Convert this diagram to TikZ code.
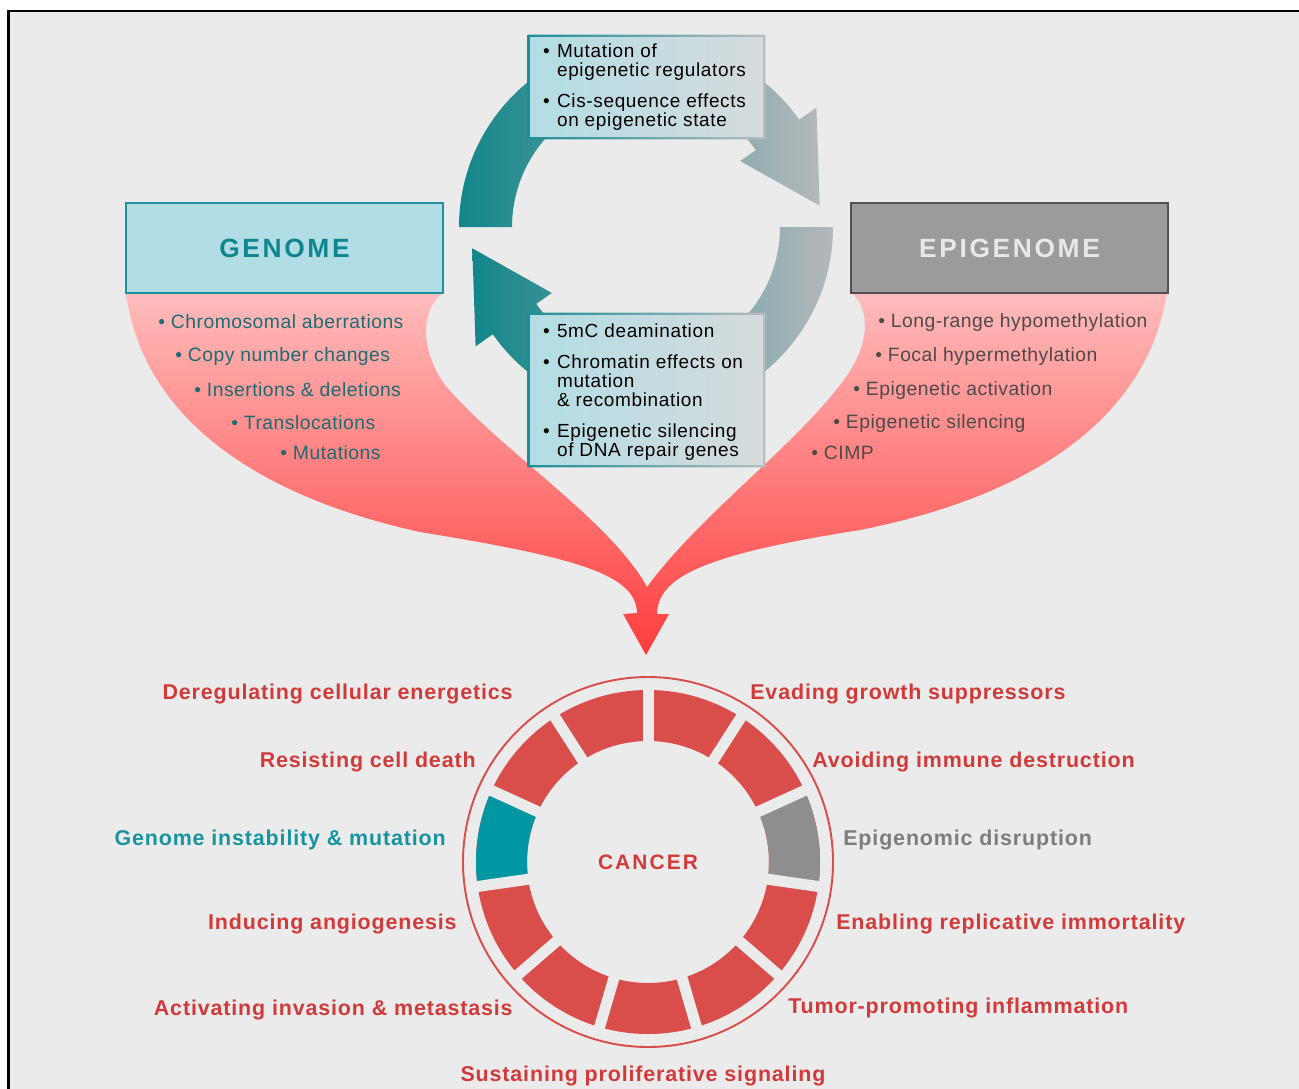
\documentclass[tikz,border=0pt]{standalone}
\usepackage{fontspec}
\setmainfont{Liberation Sans}
\newfontfamily\listfont[LetterSpace=2.5]{Liberation Sans}
\newfontfamily\boxfont[LetterSpace=3.5]{Liberation Sans}
\newfontfamily\labfont[LetterSpace=4]{Liberation Sans}
\newfontfamily\headfont[LetterSpace=10]{Liberation Sans}
\usetikzlibrary{calc}

\newcommand{\bul}{\textbullet\hspace{4.2pt}}

\definecolor{bggray}{HTML}{EBEBEB}
\definecolor{genfill}{HTML}{B3DDE5}
\definecolor{gendraw}{HTML}{1C939C}
\definecolor{gentext}{HTML}{0E868F}
\definecolor{genlist}{HTML}{1C6C72}
\definecolor{epifill}{HTML}{9B9B9B}
\definecolor{epidraw}{HTML}{544F50}
\definecolor{epitext}{HTML}{E8E8E8}
\definecolor{epilist}{HTML}{4E494A}
\definecolor{midleft}{HTML}{B2DDE5}
\definecolor{midright}{HTML}{D6DBDD}
\definecolor{edgeleft}{HTML}{1E8F97}
\definecolor{edgeright}{HTML}{B8BDBF}
\definecolor{loopleft}{HTML}{12868A}
\definecolor{loopright}{HTML}{B4B8BB}
\definecolor{funtop}{HTML}{FFBCBC}
\definecolor{funmid}{HTML}{FF9A9A}
\definecolor{funbot}{HTML}{FF3C3C}
\definecolor{hallred}{HTML}{D94D4A}
\definecolor{labred}{HTML}{D23A3A}
\definecolor{labteal}{HTML}{1893A0}
\definecolor{labgray}{HTML}{7D7D7D}
\definecolor{segteal}{HTML}{0097A2}
\definecolor{seggray}{HTML}{8E8E8E}

\begin{document}
\begin{tikzpicture}[x=0.02cm, y=-0.02cm,
    headbox/.style={minimum width=6.34cm, minimum height=1.8cm, line width=1.2pt,
      font=\headfont\fontsize{15}{18}\selectfont\bfseries},
    midbox/.style={minimum width=4.74cm, left color=midleft, right color=midright, inner sep=0pt},
    boxtext/.style={anchor=west, align=left, inner sep=0pt,
      font=\boxfont\fontsize{10.8}{10.8}\selectfont},
    genitem/.style={anchor=west, inner sep=0pt, text=genlist,
      font=\listfont\fontsize{11}{13}\selectfont},
    epiitem/.style={genitem, text=epilist},
    hallmark/.style={inner sep=0pt, text height=1.6ex, text depth=0.2ex, text=labred,
      font=\labfont\fontsize{12.2}{15}\selectfont\bfseries},
    gapline/.style={line width=0.22cm, bggray}]
  \clip (0,0) rectangle (1299,1089);
  \fill[white] (0,0) rectangle (1299,1089);

  % 背景と枠
  \fill[bggray] (8.7,11) rectangle (1320,1110);
  \draw[line width=1.7pt] (8.7,1110) -- (8.7,11) -- (1320,11);

  % 赤い矢印(ゲノムとエピゲノムからがんへ)
  \shade[top color=funtop, middle color=funmid, bottom color=funbot]
    (126,293) .. controls (140,400) and (230,490) .. (420,532)
    .. controls (580,558) and (636,575) .. (637,613)
    -- (623,614) -- (646,655) -- (669,614) -- (657,614)
    .. controls (658,578) and (700,555) .. (860,530)
    .. controls (1060,490) and (1150,400) .. (1167,293)
    -- (852,293)
    .. controls (870,310) and (872,345) .. (840,385)
    .. controls (790,450) and (700,515) .. (647,587)
    .. controls (610,520) and (500,450) .. (445,385)
    .. controls (420,350) and (420,310) .. (443,293)
    -- cycle;

  % 循環する矢印
  \begin{scope}[shift={(646,227)}]
    % 上の矢印
    \shade[left color=loopleft, right color=loopright]
      (-180:187) arc[start angle=-180, end angle=-35, radius=187]
      -- (-35:208) -- (-7:175) -- (-35:115) -- (-35:134)
      arc[start angle=-35, end angle=-180, radius=134] -- cycle;
    % 下の矢印
    \shade[left color=loopleft, right color=loopright]
      (0:187) arc[start angle=0, end angle=145, radius=187]
      -- (145:208) -- (173:175) -- (145:115) -- (145:134)
      arc[start angle=145, end angle=0, radius=134] -- cycle;
  \end{scope}

  % 上の説明の箱
  \node[midbox, minimum height=2.08cm] (mutbox) at (646.5,87) {};
  \shade[left color=edgeleft, right color=edgeright, even odd rule]
    (mutbox.south west) rectangle (mutbox.north east)
    ([shift={(1.2pt,1.2pt)}]mutbox.south west) rectangle ([shift={(-1.2pt,-1.2pt)}]mutbox.north east);
  \node[boxtext] (muttext) at ([xshift=0.3cm]mutbox.west)
    {\bul Mutation of\\ \hphantom{\bul}epigenetic regulators\\[7pt]
     \bul Cis-sequence effects\\ \hphantom{\bul}on epigenetic state};

  % 下の説明の箱
  \node[midbox, minimum height=3.08cm] (repbox) at (646.5,390) {};
  \shade[left color=edgeleft, right color=edgeright, even odd rule]
    (repbox.south west) rectangle (repbox.north east)
    ([shift={(1.2pt,1.2pt)}]repbox.south west) rectangle ([shift={(-1.2pt,-1.2pt)}]repbox.north east);
  \node[boxtext] (reptext) at ([xshift=0.3cm,yshift=-0.04cm]repbox.west)
    {\bul 5mC deamination\\[7pt]
     \bul Chromatin effects on\\ \hphantom{\bul}mutation\\ \hphantom{\bul}\& recombination\\[7pt]
     \bul Epigenetic silencing\\ \hphantom{\bul}of DNA repair genes};

  % ゲノムとエピゲノムの箱
  \node[headbox, fill=genfill, draw=gendraw, text=gentext] (genome) at (284.5,248) {GENOME};
  \node[headbox, fill=epifill, draw=epidraw, text=epitext] (epigenome) at (1009.5,248) {EPIGENOME};

  % ゲノムの項目
  \node[genitem] (gen1) at (158,322) {\textbullet\ Chromosomal aberrations};
  \node[genitem] (gen2) at (175,356) {\textbullet\ Copy number changes};
  \node[genitem] (gen3) at (194,390) {\textbullet\ Insertions \& deletions};
  \node[genitem] (gen4) at (231,423) {\textbullet\ Translocations};
  \node[genitem] (gen5) at (280,453) {\textbullet\ Mutations};

  % エピゲノムの項目
  \node[epiitem] (epi1) at (878,322) {\textbullet\ Long-range hypomethylation};
  \node[epiitem] (epi2) at (875,356) {\textbullet\ Focal hypermethylation};
  \node[epiitem] (epi3) at (853,390) {\textbullet\ Epigenetic activation};
  \node[epiitem] (epi4) at (833,423) {\textbullet\ Epigenetic silencing};
  \node[epiitem] (epi5) at (811,453) {\textbullet\ CIMP};

  % がんの輪
  \begin{scope}[shift={(648,862)}]
    \draw[hallred, line width=1.1pt] (0,0) circle[radius=185];
    \fill[hallred, even odd rule] (0,0) circle[radius=172] circle[radius=121];
    \fill[seggray] (-24.55:172) arc[start angle=-24.55, end angle=8.18, radius=172]
      -- (8.18:121) arc[start angle=8.18, end angle=-24.55, radius=121] -- cycle;
    \fill[segteal] (-188.18:172) arc[start angle=-188.18, end angle=-155.45, radius=172]
      -- (-155.45:121) arc[start angle=-155.45, end angle=-188.18, radius=121] -- cycle;
    \foreach \k in {0,...,10}
      \draw[gapline] (-90+\k*32.7273:110) -- (-90+\k*32.7273:180);
  \end{scope}
  \node[text=labred, font=\headfont\fontsize{11.9}{14}\selectfont\bfseries] (cancer) at (648,862) {CANCER};

  % がんの特徴
  \node[hallmark, anchor=east] (energy) at (513,693) {Deregulating cellular energetics};
  \node[hallmark, anchor=west] (evade) at (750,693) {Evading growth suppressors};
  \node[hallmark, anchor=east] (death) at (476,761) {Resisting cell death};
  \node[hallmark, anchor=west] (immune) at (812,761) {Avoiding immune destruction};
  \node[hallmark, anchor=east, text=labteal] (instab) at (446,839) {Genome instability \& mutation};
  \node[hallmark, anchor=west, text=labgray] (disrupt) at (843,839) {Epigenomic disruption};
  \node[hallmark, anchor=east] (angio) at (457,923) {Inducing angiogenesis};
  \node[hallmark, anchor=west] (immortal) at (836,923) {Enabling replicative immortality};
  \node[hallmark, anchor=east] (invasion) at (513,1009) {Activating invasion \& metastasis};
  \node[hallmark, anchor=west] (inflam) at (788,1007) {Tumor-promoting inflammation};
  \node[hallmark] (prolif) at (643,1075) {Sustaining proliferative signaling};
\end{tikzpicture}
\end{document}
